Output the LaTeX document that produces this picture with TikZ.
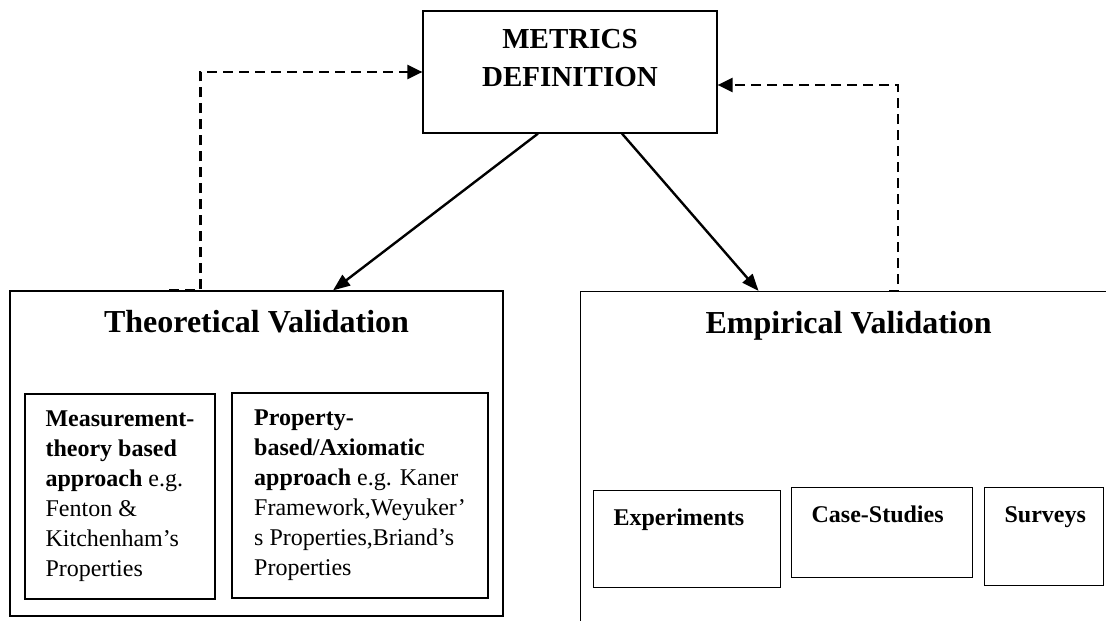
\documentclass[tikz,border=0pt]{standalone}
\usepackage{fontspec}
\setmainfont{Liberation Serif}
\usepackage{tikz}
\usetikzlibrary{arrows.meta, calc}

\tikzset{
    box/.style={draw, line width=1.2pt, rectangle, inner sep=0pt},
    title/.style={font=\fontsize{32}{38}\selectfont\bfseries, inner sep=0pt, anchor=base},
    approach/.style={box, align=left, minimum height=205pt,
        font=\fontsize{24}{30}\selectfont},
    method/.style={box, anchor=north west, align=left, inner xsep=20pt, inner ysep=18pt,
        text height=17pt, font=\fontsize{24}{30}\selectfont\bfseries},
    link/.style={line width=2.4pt, -{Triangle[length=17pt,width=13pt]}},
    back/.style={line width=2.4pt, dash pattern=on 10pt off 6pt,
        -{Triangle[length=15pt,width=14pt]}},
}

\begin{document}
\begin{tikzpicture}[x=1pt, y=-1pt]

    % 1. Page frame, the empirical box runs past it
    \useasboundingbox (0,0) rectangle (1106,621);
    \clip (0,0) rectangle (1106,621);

    % 2. The definition box on top
    \node[box, minimum width=294pt, minimum height=122pt] (metrics) at (570,72) {};
    \node[font=\fontsize{29}{38}\selectfont\bfseries, align=center, inner sep=0pt,
        anchor=north] (metricstext) at (570,29) {METRICS\\DEFINITION};

    % 3. The two validation boxes
    \node[box, minimum width=493pt, minimum height=325pt] (theo) at (256.5,453.5) {};
    \node[title] (theotitle) at ([yshift=-42pt]theo.north) {Theoretical Validation};

    \node[box, anchor=north west, minimum width=536pt, minimum height=340pt] (emp) at (580,291) {};
    \node[title] (emptitle) at ([yshift=-42pt]emp.north) {Empirical Validation};

    % 4. Approaches inside the theoretical box
    \node[approach, minimum width=190pt] (measure) at (120,496.5)
        {\textbf{Measurement-}\\\textbf{theory based}\\\textbf{approach} e.g.\\Fenton \&\\Kitchenham's\\Properties};
    \node[approach, minimum width=256pt] (property) at (360,495.5)
        {\textbf{Property-}\\\textbf{based/Axiomatic}\\\textbf{approach} e.g. Kaner\\Framework,Weyuker'\\s Properties,Briand's\\Properties};

    % 5. Methods inside the empirical box
    \node[method, text width=147pt, text depth=44pt] (exper) at (593,490) {Experiments};
    \node[method, text width=141pt, text depth=37pt] (cases) at (791,487) {Case-Studies};
    \node[method, text width=79pt, text depth=45pt] (surveys) at (984,487) {Surveys};

    % 6. Solid arrows down, dashed feedback up
    \draw[link] ([xshift=-32pt]metrics.south) -- ([xshift=76.5pt]theo.north);
    \draw[link] ([xshift=52pt]metrics.south) -- ([xshift=-90pt]emp.north);

    \draw[back] ([xshift=160pt]theo.north west) -- ([xshift=191pt]theo.north west) |- (metrics.west);
    \draw[back] ([xshift=309pt]emp.north west) -- ([xshift=318pt]emp.north west) |- ([yshift=-13pt]metrics.east);

\end{tikzpicture}
\end{document}
